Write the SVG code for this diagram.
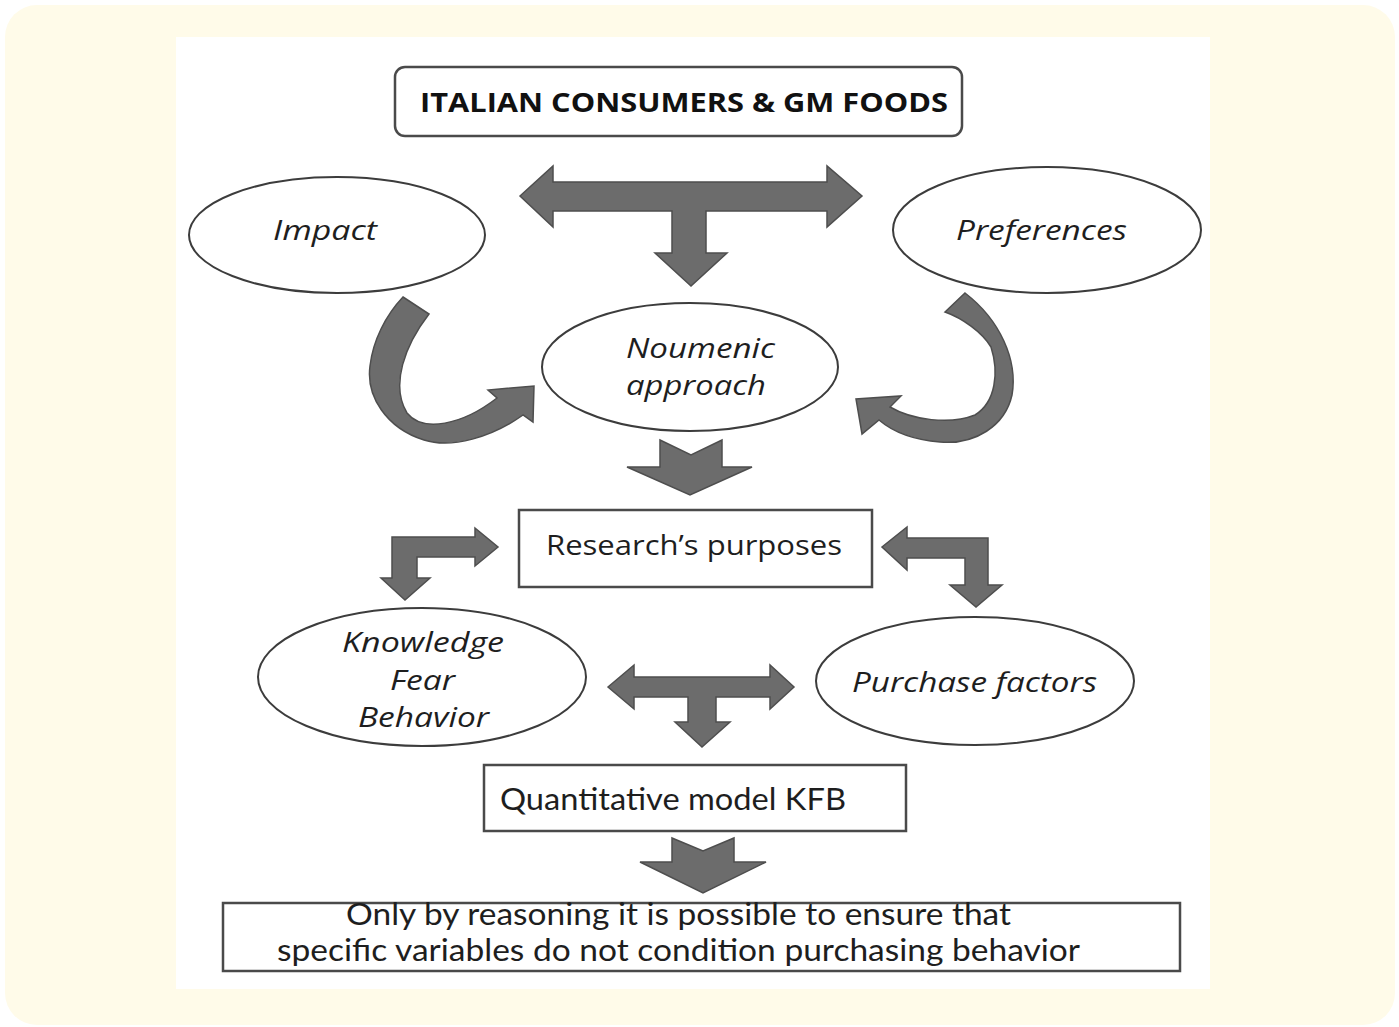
<svg xmlns="http://www.w3.org/2000/svg" width="1399" height="1027" viewBox="0 0 1399 1027">
  <defs>
    <style>
      .lbl { font-family: "Open Sans", "Liberation Sans", sans-serif; fill: #1e1e1e; font-size: 28px; }
      .narrow { font-family: Lato, "Liberation Sans", sans-serif; font-size: 30px; }
      .it { font-style: italic; }
      .title { font-weight: bold; font-size: 27px; fill: #111; }
      .oval { fill: #fff; stroke: #3c3c3c; stroke-width: 2; }
      .box { fill: #fff; stroke: #4a4a4a; stroke-width: 2.5; }
      .arrow { fill: #6c6c6c; stroke: #4e4e4e; stroke-width: 1.5; stroke-linejoin: miter; }
    </style>
  </defs>

  <!-- page backdrop -->
  <rect x="0" y="0" width="1399" height="1027" fill="#ffffff"/>
  <rect x="5" y="5" width="1390" height="1020" rx="32" fill="#fffbe9"/>
  <rect x="176" y="37" width="1034" height="952" fill="#ffffff"/>

  <!-- connectors -->
  <g id="connectors">
    <!-- title splits to Impact / Preferences and down to Noumenic -->
    <path class="arrow" d="M520,196 L553,166 L553,182 L827,182 L827,166 L862,196 L827,227 L827,211 L706,211 L706,253 L727,253 L691,286 L655,253 L672,253 L672,211 L553,211 L553,227 Z"/>
    <!-- Impact curving into Noumenic -->
    <path class="arrow" d="M403,297 L429,314 C 405,345 390,385 407,413 C 423,433 462,425 497,398 L488,390 L534,386 L533,422 L523,415 C 492,437 452,449 424,440 C 386,428 366,396 370,366 C 373,340 386,315 403,297 Z"/>
    <!-- Preferences curving into Noumenic -->
    <path class="arrow" d="M945,312 L965,293 C 1000,320 1018,360 1012,395 C 1005,426 975,445 940,442 C 915,440 893,432 879,420 L862,434 L856,399 L901,396 L890,407 C 912,420 950,425 975,415 C 996,402 999,372 991,347 C 982,332 962,318 945,312 Z"/>
    <!-- Noumenic down to Research's purposes -->
    <path class="arrow" d="M660,440 L691,455 L722,440 L722,467 L752,467 L690,495 L627,467 L660,467 Z"/>
    <!-- Research's purposes <-> Knowledge -->
    <path class="arrow" d="M392,537 L475,537 L475,528 L498,547 L475,566 L475,557 L417,557 L417,578 L430,578 L405,600 L381,578 L392,578 Z"/>
    <!-- Research's purposes <-> Purchase factors -->
    <path class="arrow" d="M988,538 L988,585 L1002,585 L976,607 L950,585 L965,585 L965,558 L907,558 L907,570 L882,547 L907,527 L907,538 Z"/>
    <!-- Knowledge <-> Purchase factors, down to the model -->
    <path class="arrow" d="M608,687 L634,665 L634,677 L770,677 L770,665 L794,687 L770,709 L770,697 L716,697 L716,722 L730,722 L702,747 L675,722 L688,722 L688,697 L634,697 L634,709 Z"/>
    <!-- model down to conclusion -->
    <path class="arrow" d="M672,838 L703,851 L734,838 L734,862 L766,862 L703,893 L640,862 L672,862 Z"/>
  </g>

  <g id="title">
    <rect class="box" x="395" y="67" width="567" height="69" rx="10"/>
    <text class="lbl title" x="420" y="112" textLength="528" lengthAdjust="spacingAndGlyphs">ITALIAN CONSUMERS &amp; GM FOODS</text>
  </g>

  <g id="impact">
    <ellipse class="oval" cx="337" cy="235" rx="148" ry="58"/>
    <text class="lbl it" x="273" y="240" textLength="104" lengthAdjust="spacingAndGlyphs">Impact</text>
  </g>

  <g id="preferences">
    <ellipse class="oval" cx="1047" cy="230" rx="154" ry="63"/>
    <text class="lbl it" x="956" y="240" textLength="171" lengthAdjust="spacingAndGlyphs">Preferences</text>
  </g>

  <g id="noumenic">
    <ellipse class="oval" cx="690" cy="367" rx="148" ry="64"/>
    <text class="lbl it" x="626" y="358" textLength="149" lengthAdjust="spacingAndGlyphs">Noumenic</text>
    <text class="lbl it" x="626" y="395" textLength="140" lengthAdjust="spacingAndGlyphs">approach</text>
  </g>

  <g id="purposes">
    <rect class="box" x="519" y="510" width="353" height="77"/>
    <text class="lbl" x="546" y="555" textLength="296" lengthAdjust="spacingAndGlyphs">Research’s purposes</text>
  </g>

  <g id="kfb-factors">
    <ellipse class="oval" cx="422" cy="677" rx="164" ry="69"/>
    <text class="lbl it" x="342" y="652" textLength="162" lengthAdjust="spacingAndGlyphs">Knowledge</text>
    <text class="lbl it" x="390" y="690" textLength="65" lengthAdjust="spacingAndGlyphs">Fear</text>
    <text class="lbl it" x="358" y="727" textLength="131" lengthAdjust="spacingAndGlyphs">Behavior</text>
  </g>

  <g id="purchase">
    <ellipse class="oval" cx="975" cy="681" rx="159" ry="64"/>
    <text class="lbl it" x="852" y="692" textLength="245" lengthAdjust="spacingAndGlyphs">Purchase factors</text>
  </g>

  <g id="model">
    <rect class="box" x="484" y="765" width="422" height="66"/>
    <text class="lbl narrow" x="500" y="810" textLength="346" lengthAdjust="spacingAndGlyphs">Quantitative model KFB</text>
  </g>

  <g id="conclusion">
    <rect class="box" x="223" y="903" width="957" height="68"/>
    <text class="lbl narrow" x="346" y="925" textLength="665" lengthAdjust="spacingAndGlyphs">Only by reasoning it is possible to ensure that</text>
    <text class="lbl narrow" x="277" y="961" textLength="803" lengthAdjust="spacingAndGlyphs">specific variables do not condition purchasing behavior</text>
  </g>
</svg>
